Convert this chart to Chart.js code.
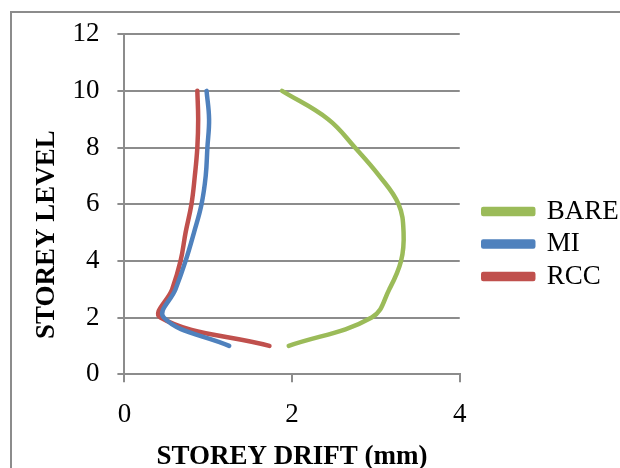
<!DOCTYPE html>
<html>
<head>
<meta charset="utf-8">
<script src="https://cdn.jsdelivr.net/npm/chart.js@4/dist/chart.umd.min.js"></script>
<style>
  html, body { margin: 0; padding: 0; background: #fff; }
  #wrap { position: relative; width: 620px; height: 468px; overflow: hidden; }
  #frame { position: absolute; left: 10px; top: 11px; width: 700px; height: 600px; border: 2px solid #8c8c8c; }
  #chart { position: absolute; left: 0; top: 0; }
</style>
</head>
<body>
<div id="wrap">
  <div id="frame"></div>
  <canvas id="chart" width="620" height="468"></canvas>
</div>
<script>
// storey levels and drift (mm) per model
const storeyLevels = [1, 2, 3, 4, 5, 6, 7, 8, 9, 10];
const bareDrift = [1.96, 2.95, 3.16, 3.30, 3.33, 3.27, 3.04, 2.75, 2.43, 1.88];
const miDrift   = [1.25, 0.47, 0.61, 0.73, 0.83, 0.92, 0.97, 0.99, 1.01, 0.98];
const rccDrift  = [1.73, 0.43, 0.57, 0.67, 0.73, 0.80, 0.84, 0.87, 0.88, 0.87];

const serif = "'Liberation Serif', 'Times New Roman', serif";
const gridGrey = '#8c8c8c';

function toPoints(drift) {
    return drift.map((d, i) => ({ x: d, y: storeyLevels[i] }));
}

function series(label, drift, color) {
    return {
        label: label,
        data: toPoints(drift),
        showLine: true,
        borderColor: color,
        backgroundColor: color,
        borderWidth: 4.5,
        borderCapStyle: 'round',
        borderJoinStyle: 'round',
        pointRadius: 0,
        tension: 0.4
    };
}

// nudge the legend block to where the original sits
const legendShift = {
    id: 'legendShift',
    afterLayout(chart) {
        const lg = chart.legend;
        if (!lg) return;
        lg.left += 18; lg.right += 18;
        lg.top -= 6; lg.bottom -= 6;
    }
};

new Chart(document.getElementById('chart'), {
    type: 'scatter',
    data: {
        datasets: [
            series('BARE', bareDrift, '#9BBB59'),
            series('MI', miDrift, '#4F81BD'),
            series('RCC', rccDrift, '#C0504D')
        ]
    },
    plugins: [legendShift],
    options: {
        responsive: false,
        animation: false,
        layout: { padding: { top: 32, right: 16, left: 27, bottom: 0 } },
        plugins: {
            tooltip: { enabled: false },
            legend: {
                position: 'right',
                labels: {
                    boxWidth: 50,
                    boxHeight: 5,
                    padding: 5.5,
                    color: '#000',
                    font: { family: serif, size: 27 }
                }
            }
        },
        scales: {
            x: {
                min: 0, max: 4,
                ticks: { stepSize: 2, color: '#000', padding: 17, font: { family: serif, size: 27 } },
                grid: { drawOnChartArea: false, color: gridGrey, tickLength: 8, lineWidth: 2 },
                border: { color: gridGrey, width: 2 },
                title: {
                    display: true,
                    text: 'STOREY DRIFT (mm)',
                    color: '#000',
                    font: { family: serif, size: 27, weight: 'bold' },
                    padding: { top: -8, bottom: -5 }
                }
            },
            y: {
                min: 0, max: 12,
                ticks: { stepSize: 2, color: '#000', padding: 18, font: { family: serif, size: 27 } },
                grid: { color: gridGrey, tickLength: 7, lineWidth: 2 },
                border: { color: gridGrey, width: 2 },
                title: {
                    display: true,
                    // trailing spaces push the label down the axis like the original
                    text: 'STOREY LEVEL         ',
                    color: '#000',
                    font: { family: serif, size: 27, weight: 'bold' },
                    padding: { top: 4, bottom: -9 }
                }
            }
        }
    }
});
</script>
</body>
</html>
